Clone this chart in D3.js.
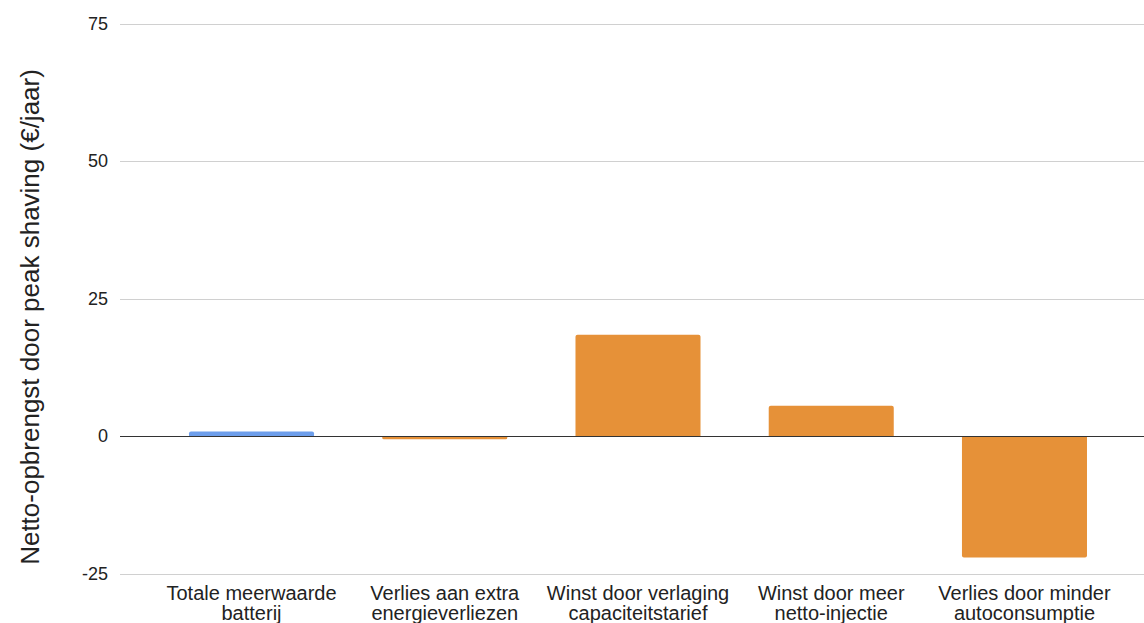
<!DOCTYPE html>
<html>
<head>
<meta charset="utf-8">
<script src="https://cdn.jsdelivr.net/npm/d3@7"></script>
<style>
  html, body { margin: 0; padding: 0; background: #fff; }
  svg { display: block; font-family: "Liberation Sans", Arial, sans-serif; }
</style>
</head>
<body>
<svg id="chart" width="1144" height="623"></svg>
<script>
// Components of the yearly net return from peak shaving
const categories = [
  ["Totale meerwaarde", "batterij"],
  ["Verlies aan extra", "energieverliezen"],
  ["Winst door verlaging", "capaciteitstarief"],
  ["Winst door meer", "netto-injectie"],
  ["Verlies door minder", "autoconsumptie"]
];
const values = [0.8, -0.6, 18.4, 5.5, -22.1];
const barColors = ["#6d9eeb", "#e69138", "#e69138", "#e69138", "#e69138"];
const yTicks = [-25, 0, 25, 50, 75];
const yTitle = "Netto-opbrengst door peak shaving (€/jaar)";

const svg = d3.select("#chart");
const gridLeft = 120, gridRight = 1144;

const y = d3.scaleLinear().domain([-25, 75]).range([573.5, 23.5]);
const x = d3.scaleBand()
  .domain(categories.map((d, i) => i))
  .range([155, 1121])
  .paddingInner(0.353)
  .paddingOuter(0.176);

// horizontal gridlines
svg.append("g")
  .selectAll("line")
  .data(yTicks.filter(t => t !== 0))
  .join("line")
  .attr("x1", gridLeft).attr("x2", gridRight)
  .attr("y1", d => Math.round(y(d)) + 0.5).attr("y2", d => Math.round(y(d)) + 0.5)
  .attr("stroke", "#d0d0d0").attr("stroke-width", 1);

// y tick labels
svg.append("g")
  .selectAll("text")
  .data(yTicks)
  .join("text")
  .attr("x", 108)
  .attr("y", d => y(d))
  .attr("dy", "0.35em")
  .attr("text-anchor", "end")
  .attr("font-size", 18)
  .attr("fill", "#222")
  .text(d => d);

// bars with slightly rounded outer corners
function barPath(i) {
  const v = values[i];
  const x0 = x(i), w = x.bandwidth();
  const y0 = y(0), y1 = y(v);
  const r = Math.min(2, Math.abs(y1 - y0) / 2);
  if (v >= 0) {
    return `M${x0},${y0} V${y1 + r} Q${x0},${y1} ${x0 + r},${y1} H${x0 + w - r} Q${x0 + w},${y1} ${x0 + w},${y1 + r} V${y0} Z`;
  }
  return `M${x0},${y0} V${y1 - r} Q${x0},${y1} ${x0 + r},${y1} H${x0 + w - r} Q${x0 + w},${y1} ${x0 + w},${y1 - r} V${y0} Z`;
}

svg.append("g")
  .selectAll("path")
  .data(values.map((v, i) => i))
  .join("path")
  .attr("d", barPath)
  .attr("fill", i => barColors[i]);

// zero baseline
svg.append("line")
  .attr("x1", gridLeft).attr("x2", gridRight)
  .attr("y1", Math.round(y(0)) + 0.5).attr("y2", Math.round(y(0)) + 0.5)
  .attr("stroke", "#333").attr("stroke-width", 1);

// category labels (two lines each)
const xl = svg.append("g")
  .selectAll("text")
  .data(categories)
  .join("text")
  .attr("text-anchor", "middle")
  .attr("font-size", 20)
  .attr("fill", "#222");
xl.each(function(d, i) {
  const t = d3.select(this);
  const cx = x(i) + x.bandwidth() / 2;
  d.forEach((line, k) => {
    t.append("tspan").attr("x", cx).attr("y", 600 + k * 20).text(line);
  });
});

// y axis title
svg.append("text")
  .attr("transform", `translate(39,317) rotate(-90)`)
  .attr("text-anchor", "middle")
  .attr("font-size", 26)
  .attr("fill", "#222")
  .text(yTitle);
</script>
</body>
</html>
